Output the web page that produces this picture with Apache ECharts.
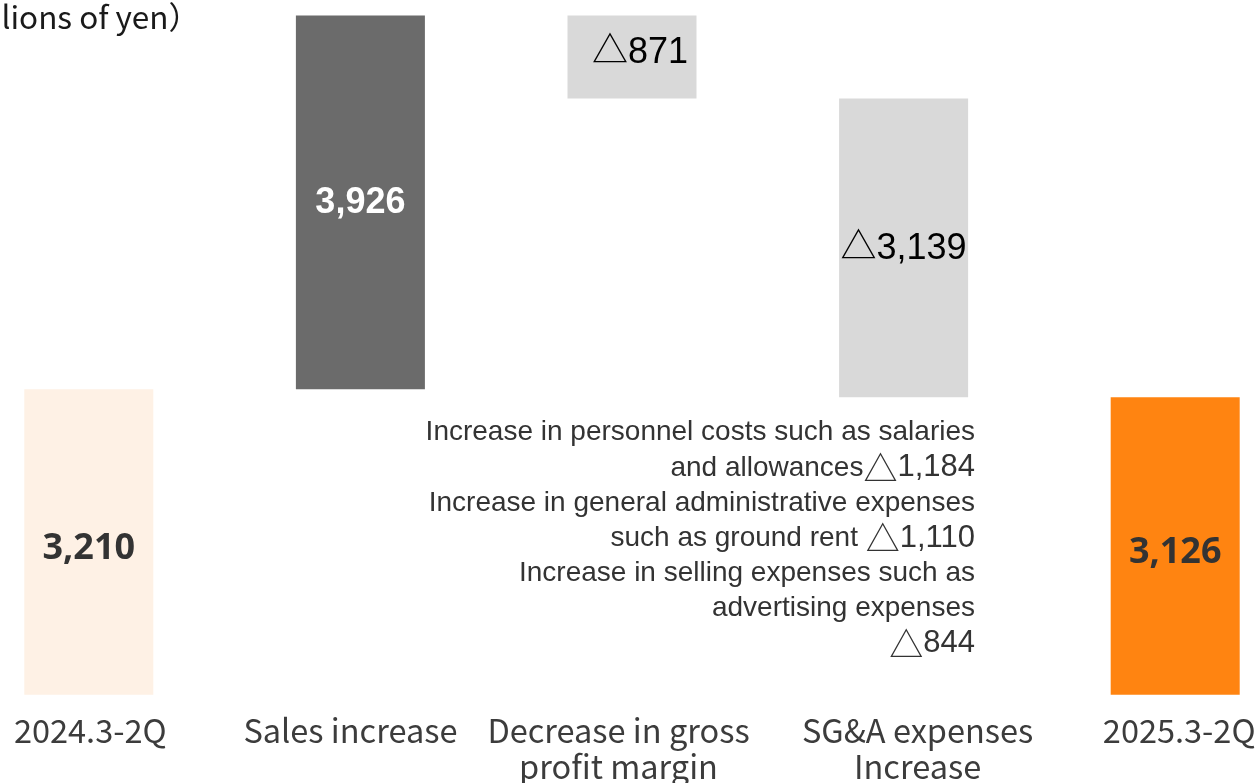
<!DOCTYPE html>
<html>
<head>
<meta charset="utf-8">
<script src="https://cdn.jsdelivr.net/npm/echarts@6/dist/echarts.min.js"></script>
<style>
  html, body { margin: 0; padding: 0; background: #ffffff; overflow: hidden; width: 1260px; height: 783px; }
  /* The plot is wider than the window so the outer bars sit near the edges */
  #chart { position: absolute; left: -47px; top: 0; width: 1358px; height: 783px; }
</style>
</head>
<body>
<div id="chart"></div>
<script>
// Operating income bridge (millions of yen)
const categories = ['2024.3-2Q', 'Sales increase', 'Decrease in gross\nprofit margin', 'SG&A expenses\nIncrease', '2025.3-2Q'];
const changes = [3210, 3926, -871, -3139, 3126];
const isTotal = [true, false, false, false, true];
const barColors = ['#FEF1E5', '#6B6B6B', '#D9D9D9', '#D9D9D9', '#FF8411'];
const labelColors = ['#333333', '#FFFFFF', '#000000', '#000000', '#333333'];
const unitText = '（Unit: millions of yen）';
const noteLines = [
  'Increase in personnel costs such as salaries',
  'and allowances△1,184',
  'Increase in general administrative expenses',
  'such as ground rent △1,110',
  'Increase in selling expenses such as',
  'advertising expenses',
  '△844'
];

const SHIFT = 47; // offset of the chart canvas relative to the window
// horizontal nudge of each category label (px)
const labelNudge = [1.5, -10, -13.5, 14, 4];

// Build invisible base + visible bar heights for the waterfall
const base = [];
const height = [];
let running = 0;
changes.forEach((v, i) => {
  if (isTotal[i]) {
    base.push(0);
    height.push(v);
    running = v;
  } else if (v >= 0) {
    base.push(running);
    height.push(v);
    running += v;
  } else {
    running += v;
    base.push(running);
    height.push(-v);
  }
});

const fmt = n => Math.abs(n).toLocaleString('en-US');

const axisFont = '"Noto Sans CJK JP", "Noto Sans", sans-serif';
const richLabels = {};
labelNudge.forEach((d, i) => {
  richLabels['c' + i] = {
    fontFamily: axisFont,
    fontSize: 32.5,
    lineHeight: 36,
    color: '#3C3C3C',
    padding: d >= 0 ? [0, 0, 0, 2 * d] : [0, -2 * d, 0, 0]
  };
});

// Note lines: plain text, a triangle mark, then the amount
const noteRich = noteLines.map(l => {
  const parts = l.split('△');
  let s = parts[0] ? '{t|' + parts[0] + '}' : '';
  if (parts.length > 1) s += '{tri|△}{n|' + parts[1] + '}';
  return s;
}).join('\n');

const chart = echarts.init(document.getElementById('chart'));
chart.setOption({
  animation: false,
  backgroundColor: '#ffffff',
  grid: { left: 0, right: 0, top: 0, bottom: 86.5 },
  xAxis: {
    type: 'category',
    data: categories,
    axisLine: { show: false },
    axisTick: { show: false },
    axisLabel: {
      interval: 0,
      margin: 18,
      formatter: (val, idx) => val.split('\n').map(l => '{c' + idx + '|' + l + '}').join('\n'),
      rich: richLabels
    }
  },
  yAxis: {
    type: 'value',
    min: 0,
    max: 7300,
    show: false,
    splitLine: { show: false }
  },
  series: [
    {
      type: 'bar',
      stack: 'w',
      data: base,
      itemStyle: { color: 'transparent' },
      silent: true,
      barWidth: '47.5%'
    },
    {
      type: 'bar',
      stack: 'w',
      barWidth: '47.5%',
      data: height.map((h, i) => {
        const neg = changes[i] < 0;
        const ff = (i === 1)
          ? '"Liberation Sans", Arial, sans-serif'
          : (neg ? '"Liberation Sans", Arial, "Noto Sans CJK JP", sans-serif'
                 : '"Noto Sans", "Open Sans", sans-serif');
        let off = [0, 1];
        if (i === 2) off = [8, -4];
        if (isTotal[i]) off = [0, 7];
        return {
          value: h,
          itemStyle: { color: barColors[i] },
          label: {
            show: true,
            position: 'inside',
            offset: off,
            formatter: () => (neg ? '△' : '') + fmt(changes[i]),
            color: labelColors[i],
            fontSize: 36,
            fontWeight: neg ? 'normal' : 'bold',
            fontFamily: ff
          }
        };
      })
    }
  ],
  graphic: [
    {
      type: 'text',
      x: SHIFT + 200,
      y: 17,
      style: {
        text: unitText,
        fill: '#1A1A1A',
        font: '31.5px "Noto Sans CJK JP", sans-serif',
        textAlign: 'right',
        textVerticalAlign: 'middle'
      }
    },
    {
      type: 'text',
      x: SHIFT + 975,
      y: 415,
      style: {
        text: noteRich,
        fill: '#333333',
        textAlign: 'right',
        textVerticalAlign: 'top',
        rich: {
          t: {
            fontFamily: '"Liberation Sans", Arial, sans-serif',
            fontSize: 28,
            lineHeight: 35.2,
            fill: '#333333'
          },
          tri: {
            fontFamily: '"Noto Sans CJK JP", sans-serif',
            fontSize: 34,
            lineHeight: 35.2,
            fill: '#333333'
          },
          n: {
            fontFamily: '"Liberation Sans", Arial, sans-serif',
            fontSize: 31,
            lineHeight: 35.2,
            fill: '#333333'
          }
        }
      }
    }
  ]
});
</script>
</body>
</html>
